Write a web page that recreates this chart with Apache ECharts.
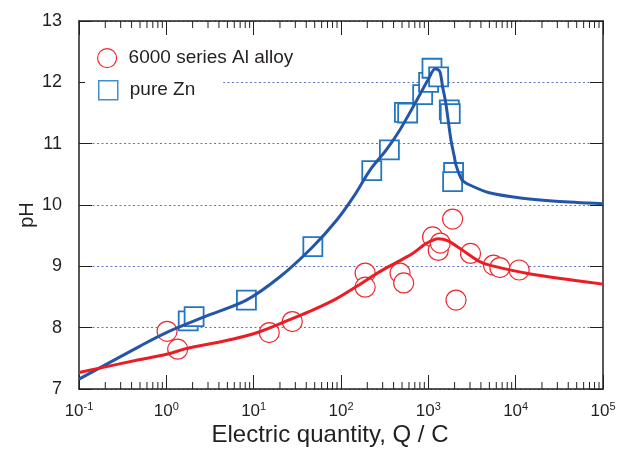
<!DOCTYPE html>
<html>
<head>
<meta charset="utf-8">
<script src="https://cdn.jsdelivr.net/npm/echarts@6/dist/echarts.min.js"></script>
<style>
  html, body { margin: 0; padding: 0; background: #fff; }
  #chart { width: 617px; height: 450px; }
</style>
</head>
<body>
<div id="chart"></div>
<script>
// measured points (Q in C, pH)
const alloyQ  = [1.02, 1.35, 15.1, 27.7, 189, 189, 475, 522, 1119, 1300, 1371, 1897, 2075, 3043, 5570, 6590, 10970];
const alloyPH = [7.94, 7.65, 7.92, 8.10, 8.89, 8.66, 8.89, 8.73, 9.48, 9.26, 9.38, 9.77, 8.45, 9.21, 9.02, 8.98, 8.94];

const znQ  = [1.78, 2.08, 8.26, 47.6, 225, 358, 532, 580, 861, 1007, 1101, 1312, 1738, 1783, 1945, 1897];
const znPH = [8.11, 8.18, 8.45, 9.32, 10.56, 10.90, 11.51, 11.50, 11.80, 12.00, 12.23, 12.09, 11.55, 11.49, 10.53, 10.38];

// fitted curves
const alloyFitQ  = [0.1, 0.5, 1.1, 1.7, 4.9, 11.5, 28, 48, 88, 150, 275, 467, 660, 940, 1300, 1660, 2260, 3830, 5000, 14260, 100000];
const alloyFitPH = [7.27, 7.48, 7.58, 7.66, 7.79, 7.93, 8.15, 8.29, 8.47, 8.67, 8.91, 9.09, 9.21, 9.37, 9.45, 9.42, 9.30, 9.08, 9.02, 8.88, 8.71];

const znFitQ  = [0.1, 0.5, 1, 2.76, 8.26, 20, 47.6, 90, 140, 215, 330, 470, 700, 1000, 1200, 1350, 1455, 1585, 1816, 1982, 2075, 2427, 2943, 4980, 11970, 28780, 100000];
const znFitPH = [7.16, 7.70, 7.92, 8.18, 8.45, 8.83, 9.32, 9.76, 10.14, 10.57, 10.90, 11.22, 11.65, 12.05, 12.22, 12.18, 11.93, 11.66, 11.06, 10.79, 10.65, 10.41, 10.33, 10.20, 10.11, 10.06, 10.02];

const decades = [-1, 0, 1, 2, 3, 4, 5];
const xMin = 0.1, xMax = 1e5;
const yMin = 7, yMax = 13;

const FONT = '"Liberation Sans", Arial, Helvetica, sans-serif';
const INK = '#231f20';
const RED = '#ee2a30';
const RED_LINE = '#ec1c24';
const BLUE = '#2277c0';
const BLUE_LINE = '#2356a8';

const pairs = (xs, ys) => xs.map((x, i) => [x, ys[i]]);

// minor ticks at 2..9 x 10^n
const minorTicks = [];
decades.slice(0, -1).forEach(d => {
  for (let k = 2; k <= 9; k++) minorTicks.push([k * Math.pow(10, d)]);
});

const chart = echarts.init(document.getElementById('chart'));

const xAxisBase = {
  type: 'log',
  logBase: 10,
  min: xMin,
  max: xMax,
  axisLine: { show: true, lineStyle: { color: INK, width: 1.5 } },
  axisTick: { show: true, inside: true, length: 14, lineStyle: { color: INK, width: 1 } },
  splitLine: { show: false },
  minorTick: { show: false }
};

const legendText = { fontFamily: FONT, fontSize: 19, color: INK, padding: [0, 0, 0, 7] };

chart.setOption({
  animation: false,
  backgroundColor: '#fff',
  grid: { left: 79, right: 14, top: 21, bottom: 61, containLabel: false, outerBoundsMode: 'none' },
  legend: [
    {
      left: 92, top: 43, orient: 'vertical',
      itemWidth: 19, itemHeight: 19,
      textStyle: legendText,
      data: [{ name: '6000 series Al alloy', icon: 'circle',
               itemStyle: { color: '#fff', borderColor: RED, borderWidth: 1.2 } }]
    },
    {
      left: 85, top: 76, orient: 'vertical',
      padding: [4, 28, 4, 13],
      backgroundColor: '#fff',
      itemWidth: 19, itemHeight: 19,
      textStyle: legendText,
      data: [{ name: 'pure Zn', icon: 'rect',
               itemStyle: { color: '#fff', borderColor: '#3f8fd0', borderWidth: 1.5 } }]
    }
  ],
  xAxis: [
    Object.assign({}, xAxisBase, {
      position: 'bottom',
      name: 'Electric quantity, Q / C',
      nameLocation: 'middle',
      nameGap: 34,
      nameMoveOverlap: false,
      nameTextStyle: { fontFamily: FONT, fontSize: 24, color: INK, padding: [0, 22, 0, 0] },
      axisLabel: {
        margin: 12,
        fontFamily: FONT, fontSize: 17, color: INK, lineHeight: 20,
        showMinLabel: true, showMaxLabel: true,
        formatter: v => '10{sup|' + Math.round(Math.log10(v)) + '}',
        rich: { sup: { fontFamily: FONT, fontSize: 11, lineHeight: 11, verticalAlign: 'top', color: INK } }
      }
    }),
    Object.assign({}, xAxisBase, {
      position: 'top',
      axisLabel: { show: false }
    })
  ],
  yAxis: [
    {
      type: 'value', min: yMin, max: yMax, interval: 1,
      position: 'left',
      name: 'pH',
      nameLocation: 'middle',
      nameGap: 42,
      nameRotate: 90,
      nameMoveOverlap: false,
      nameTextStyle: { fontFamily: FONT, fontSize: 20, color: INK, padding: [0, 20, 0, 0] },
      axisLine: { show: true, lineStyle: { color: INK, width: 1.5 } },
      axisTick: { show: true, inside: true, length: 13, lineStyle: { color: INK, width: 1 } },
      axisLabel: { margin: 17, fontFamily: FONT, fontSize: 18, color: INK },
      splitLine: { show: true, lineStyle: { color: '#6272c4', width: 1, type: [2, 2.5] } }
    },
    {
      type: 'value', min: yMin, max: yMax, interval: 1,
      position: 'right',
      axisLine: { show: true, lineStyle: { color: INK, width: 1.5 } },
      axisTick: { show: true, inside: true, length: 13, lineStyle: { color: INK, width: 1 } },
      axisLabel: { show: false },
      splitLine: { show: false }
    }
  ],
  series: [
    {
      type: 'custom',
      name: 'minor ticks',
      silent: true,
      xAxisIndex: 0, yAxisIndex: 0,
      data: minorTicks,
      renderItem: (params, api) => {
        const v = api.value(0);
        const b = api.coord([v, yMin]);
        const t = api.coord([v, yMax]);
        const style = { stroke: INK, lineWidth: 1 };
        return {
          type: 'group',
          children: [
            { type: 'line', shape: { x1: b[0], y1: b[1], x2: b[0], y2: b[1] - 7 }, style },
            { type: 'line', shape: { x1: t[0], y1: t[1], x2: t[0], y2: t[1] + 7 }, style }
          ]
        };
      },
      z: 5
    },
    {
      name: 'Zn fit',
      type: 'line',
      smooth: 0.3,
      showSymbol: false,
      symbol: 'none',
      lineStyle: { color: BLUE_LINE, width: 3 },
      data: pairs(znFitQ, znFitPH)
    },
    {
      name: 'Al fit',
      type: 'line',
      smooth: 0.3,
      showSymbol: false,
      symbol: 'none',
      lineStyle: { color: RED_LINE, width: 3 },
      data: pairs(alloyFitQ, alloyFitPH)
    },
    {
      name: '6000 series Al alloy',
      type: 'scatter',
      symbol: 'circle',
      symbolSize: 20,
      itemStyle: { color: '#fff', borderColor: RED, borderWidth: 1.2, opacity: 1 },
      data: pairs(alloyQ, alloyPH)
    },
    {
      name: 'pure Zn',
      type: 'scatter',
      symbol: 'rect',
      symbolSize: 19,
      itemStyle: { color: '#fff', borderColor: BLUE, borderWidth: 1.8, opacity: 1 },
      data: pairs(znQ, znPH)
    }
  ]
});
</script>
</body>
</html>
